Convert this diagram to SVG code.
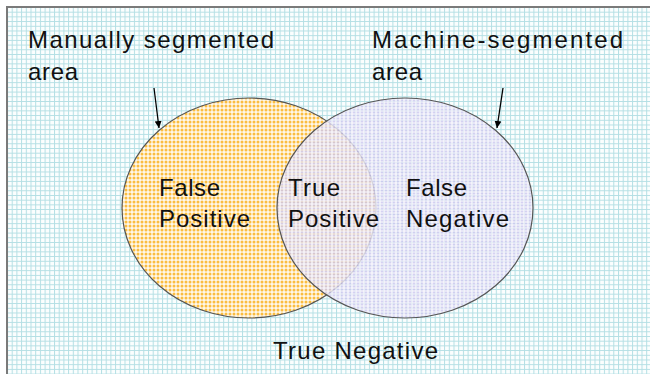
<svg xmlns="http://www.w3.org/2000/svg" width="650" height="374" viewBox="0 0 650 374">
  <defs>
    <pattern id="grid" x="7" y="7" width="4.7" height="4.7" patternUnits="userSpaceOnUse">
      <rect width="4.7" height="4.7" fill="#fbfefe"/>
      <path d="M0 0.5H4.7M0.5 0V4.7" stroke="#b4dfe4" stroke-width="1"/>
    </pattern>
    <pattern id="orange" width="4" height="4" patternUnits="userSpaceOnUse">
      <rect width="4" height="4" fill="#fff8ea"/>
      <circle cx="2" cy="2" r="1.5" fill="#fbbd40"/>
    </pattern>
    <pattern id="lav" width="4" height="3" patternUnits="userSpaceOnUse">
      <rect width="4" height="3" fill="#f3f1fb"/>
      <ellipse cx="2" cy="1.5" rx="1.3" ry="0.9" fill="#cdc8ef"/>
    </pattern>
    <marker id="arr" markerWidth="8" markerHeight="8" refX="7" refY="4" orient="auto" markerUnits="userSpaceOnUse">
      <path d="M0 0.5L7 4L0 7.5Z" fill="#000"/>
    </marker>
    <style>
      text { font-family: "Liberation Sans", Arial, sans-serif; font-size: 24px; fill: #111; }
      .ell { stroke: #555; stroke-width: 1.2; }
      .conn { stroke: #000; stroke-width: 1.3; fill: none; }
    </style>
  </defs>
  <rect width="650" height="374" fill="#fff"/>
  <rect x="7" y="7" width="650" height="370" fill="url(#grid)"/>
  <path d="M7 374V7H650" fill="none" stroke="#7a7a7a" stroke-width="2"/>

  <g id="manual-area">
    <ellipse class="ell" cx="249" cy="208" rx="127" ry="110" fill="url(#orange)"/>
  </g>
  <g id="machine-area">
    <ellipse class="ell" cx="405" cy="208" rx="128" ry="110" fill="url(#lav)" fill-opacity="0.82"/>
  </g>

  <g id="connectors">
    <path class="conn" d="M154 88L159 128" marker-end="url(#arr)"/>
    <path class="conn" d="M503 88L497 128" marker-end="url(#arr)"/>
  </g>

  <g id="label-manual">
    <text x="28" y="48" textLength="246" lengthAdjust="spacing">Manually segmented</text>
    <text x="28" y="80" textLength="50" lengthAdjust="spacing">area</text>
  </g>
  <g id="label-machine">
    <text x="372" y="48" textLength="251" lengthAdjust="spacing">Machine-segmented</text>
    <text x="372" y="80" textLength="50" lengthAdjust="spacing">area</text>
  </g>
  <g id="false-positive">
    <text x="159" y="196" textLength="61" lengthAdjust="spacing">False</text>
    <text x="159" y="227" textLength="91" lengthAdjust="spacing">Positive</text>
  </g>
  <g id="true-positive">
    <text x="288" y="196" textLength="52" lengthAdjust="spacing">True</text>
    <text x="288" y="227" textLength="91" lengthAdjust="spacing">Positive</text>
  </g>
  <g id="false-negative">
    <text x="406" y="196" textLength="61" lengthAdjust="spacing">False</text>
    <text x="406" y="227" textLength="103" lengthAdjust="spacing">Negative</text>
  </g>
  <g id="true-negative">
    <text x="273" y="359" textLength="165" lengthAdjust="spacing">True Negative</text>
  </g>
</svg>
